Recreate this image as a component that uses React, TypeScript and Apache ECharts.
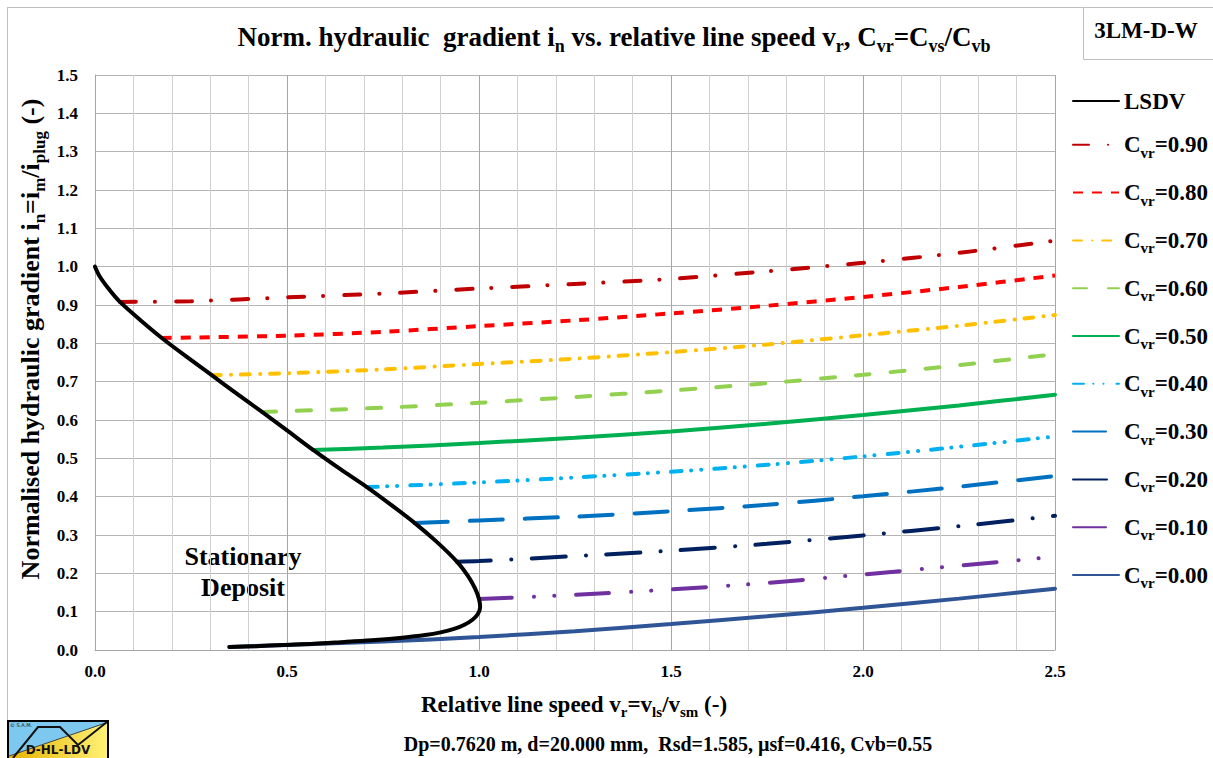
import React, { useEffect, useRef } from "react";
import * as echarts from "echarts";

const FONT = '"Liberation Serif", "Times New Roman", serif';

// ---------------- data ----------------
const lsdvV = [0, 0.012, 0.035, 0.065, 0.12, 0.174, 0.24, 0.304, 0.37, 0.435, 0.5, 0.568, 0.64, 0.708, 0.772, 0.833, 0.89, 0.943, 0.972, 0.99, 1.0, 1.003, 0.997, 0.983, 0.962, 0.935, 0.9, 0.86, 0.8, 0.73, 0.65, 0.57, 0.49, 0.42, 0.35];
const lsdvI = [1.0, 0.975, 0.943, 0.908, 0.859, 0.814, 0.764, 0.717, 0.668, 0.621, 0.573, 0.522, 0.471, 0.425, 0.378, 0.331, 0.282, 0.23, 0.192, 0.16, 0.133, 0.112, 0.094, 0.079, 0.066, 0.055, 0.046, 0.039, 0.032, 0.026, 0.021, 0.016, 0.013, 0.01, 0.008];

const cvrNames = ["0.90", "0.80", "0.70", "0.60", "0.50", "0.40", "0.30", "0.20", "0.10", "0.00"];

const cvr90V = [0.065, 0.25, 0.5, 0.75, 1.0, 1.25, 1.5, 1.75, 2.0, 2.25, 2.5];
const cvr90I = [0.908, 0.91, 0.92, 0.93, 0.943, 0.955, 0.968, 0.988, 1.01, 1.036, 1.068];

const cvr80V = [0.174, 0.5, 0.75, 1.0, 1.25, 1.5, 1.75, 2.0, 2.25, 2.5];
const cvr80I = [0.814, 0.82, 0.83, 0.845, 0.86, 0.878, 0.898, 0.921, 0.947, 0.977];

const cvr70V = [0.304, 0.5, 0.75, 1.0, 1.25, 1.5, 1.75, 2.0, 2.25, 2.5];
const cvr70I = [0.717, 0.722, 0.732, 0.746, 0.76, 0.777, 0.797, 0.821, 0.846, 0.874];

const cvr60V = [0.435, 0.75, 1.0, 1.25, 1.5, 1.75, 2.0, 2.25, 2.5];
const cvr60I = [0.621, 0.632, 0.645, 0.66, 0.677, 0.696, 0.718, 0.743, 0.772];

const cvr50V = [0.568, 0.75, 1.0, 1.25, 1.5, 1.75, 2.0, 2.25, 2.5];
const cvr50I = [0.522, 0.528, 0.54, 0.554, 0.57, 0.59, 0.613, 0.638, 0.666];

const cvr40V = [0.708, 1.0, 1.25, 1.5, 1.75, 2.0, 2.25, 2.5];
const cvr40I = [0.425, 0.437, 0.45, 0.465, 0.483, 0.505, 0.53, 0.557];

const cvr30V = [0.833, 1.0, 1.25, 1.5, 1.75, 2.0, 2.25, 2.5];
const cvr30I = [0.331, 0.338, 0.348, 0.362, 0.379, 0.401, 0.426, 0.454];

const cvr20V = [0.943, 1.0, 1.25, 1.5, 1.75, 2.0, 2.25, 2.5];
const cvr20I = [0.23, 0.232, 0.245, 0.259, 0.277, 0.299, 0.323, 0.35];

const cvr10V = [1.0, 1.25, 1.5, 1.75, 2.0, 2.25, 2.5];
const cvr10I = [0.133, 0.144, 0.158, 0.175, 0.197, 0.22, 0.243];

const cvr00V = [0.35, 0.5, 0.75, 1.0, 1.25, 1.5, 1.75, 2.0, 2.25, 2.5];
const cvr00I = [0.008, 0.013, 0.022, 0.034, 0.049, 0.068, 0.088, 0.11, 0.134, 0.16];

const cvrV = [cvr90V, cvr80V, cvr70V, cvr60V, cvr50V, cvr40V, cvr30V, cvr20V, cvr10V, cvr00V];
const cvrI = [cvr90I, cvr80I, cvr70I, cvr60I, cvr50I, cvr40I, cvr30I, cvr20I, cvr10I, cvr00I];

// ---------------- styles ----------------
const cvrStyles: any[] = [
  { color: "#C00000", type: [16, 19, 0.1, 21], cap: "round" },
  { color: "#FF0000", type: [10, 9], cap: "butt" },
  { color: "#FFC000", type: [9, 10.3, 0.1, 9.7], cap: "round" },
  { color: "#92D050", type: [14, 21], cap: "round" },
  { color: "#00B050", type: "solid", cap: "round" },
  { color: "#00B0F0", type: [11, 9.3, 0.1, 10, 0.1, 13], cap: "round" },
  { color: "#0070C0", type: [33, 22], cap: "round" },
  { color: "#002060", type: [34, 20.3, 0.1, 20.3], cap: "round" },
  { color: "#7030A0", type: [33, 22, 0.1, 20, 0.1, 22], cap: "round" },
  { color: "#2F5597", type: "solid", cap: "round" },
];

const mainRich = (size: number, lh: number) => ({
  m: { fontSize: size, fontFamily: FONT, fontWeight: "bold", fill: "#000", color: "#000", lineHeight: lh, verticalAlign: "middle" },
  s: { fontSize: Math.round(size * 0.65), fontFamily: FONT, fontWeight: "bold", fill: "#000", color: "#000", lineHeight: lh, verticalAlign: "bottom" },
});

export default function App() {
  const ref = useRef<HTMLDivElement>(null);
  useEffect(() => {
    if (!ref.current) return;
    const chart = echarts.init(ref.current, undefined, { renderer: "svg" });

    const series: any[] = [];
    cvrNames.forEach((n, k) => {
      const st = cvrStyles[k];
      series.push({
        name: n,
        type: "line",
        data: cvrV[k].map((v, j) => [v, cvrI[k][j]]),
        symbol: "none",
        smooth: 0.3,
        color: st.color,
        z: 2,
        lineStyle: { color: st.color, width: 4, type: st.type, cap: st.cap },
      });
    });
    series.push({
      name: "LSDV",
      type: "line",
      data: lsdvV.map((v, j) => [v, lsdvI[j]]),
      symbol: "none",
      smooth: 0.3,
      color: "#000000",
      z: 3,
      lineStyle: { color: "#000000", width: 4, type: "solid", cap: "round", join: "round" },
    });

    const legRich: any = {
      m: { fontSize: 23, fontFamily: FONT, fontWeight: "bold", color: "#000", lineHeight: 31, verticalAlign: "middle" },
      s: { fontSize: 15, fontFamily: FONT, fontWeight: "bold", color: "#000", lineHeight: 31, verticalAlign: "bottom" },
    };

    const logoGrad = new echarts.graphic.LinearGradient(0, 0, 1, 0, [
      { offset: 0, color: "#E6B400" },
      { offset: 1, color: "#FFF176" },
    ]);

    chart.setOption({
      animation: false,
      backgroundColor: "#ffffff",
      grid: { left: 95, top: 75, width: 960, height: 575, containLabel: false },
      xAxis: {
        type: "value",
        min: 0,
        max: 2.5,
        interval: 0.5,
        axisLine: { show: true, lineStyle: { color: "#A6A6A6", width: 1 } },
        axisTick: { show: false },
        minorTick: { show: false, splitNumber: 5 },
        splitLine: { show: true, lineStyle: { color: "#A6A6A6", width: 1 } },
        minorSplitLine: { show: true, lineStyle: { color: "#D0D0D0", width: 1 } },
        axisLabel: {
          margin: 13,
          fontFamily: FONT,
          fontWeight: "bold",
          fontSize: 17,
          color: "#000",
          formatter: (v: number) => v.toFixed(1),
        },
      },
      yAxis: {
        type: "value",
        min: 0,
        max: 1.5,
        interval: 0.1,
        axisLine: { show: true, lineStyle: { color: "#A6A6A6", width: 1 } },
        axisTick: { show: false },
        splitLine: { show: true, lineStyle: { color: "#B4B4B4", width: 1 } },
        axisLabel: {
          margin: 17,
          fontFamily: FONT,
          fontWeight: "bold",
          fontSize: 17,
          color: "#000",
          formatter: (v: number) => v.toFixed(1),
        },
      },
      legend: {
        orient: "vertical",
        left: 1072,
        top: 89.5,
        padding: 0,
        itemGap: 20.8,
        itemWidth: 46,
        itemHeight: 14,
        data: ["LSDV", ...cvrNames],
        selectedMode: false,
        itemStyle: { opacity: 0 },
        textStyle: { fontFamily: FONT, fontWeight: "bold", fontSize: 23, color: "#000", rich: legRich },
        formatter: (name: string) => (name === "LSDV" ? "{m|LSDV}" : `{m|C}{s|vr}{m|=${name}}`),
      },
      series,
      graphic: [
        // frame lines
        { type: "line", shape: { x1: 7, y1: 7.5, x2: 1213, y2: 7.5 }, style: { stroke: "#BFBFBF", lineWidth: 1 }, silent: true },
        { type: "line", shape: { x1: 7.5, y1: 7, x2: 7.5, y2: 758 }, style: { stroke: "#BFBFBF", lineWidth: 1 }, silent: true },
        // id box
        { type: "rect", shape: { x: 1083.5, y: 7.5, width: 140, height: 52 }, style: { fill: "#fff", stroke: "#BFBFBF", lineWidth: 1 }, silent: true },
        {
          type: "text", x: 1146, y: 30,
          style: { text: "3LM-D-W", fontFamily: FONT, fontWeight: "bold", fontSize: 23, fill: "#000", align: "center", verticalAlign: "middle" },
        },
        // title
        {
          type: "text", x: 614, y: 37,
          style: {
            text: "{m|Norm. hydraulic  gradient i}{s|n}{m| vs. relative line speed v}{s|r}{m|, C}{s|vr}{m|=C}{s|vs}{m|/C}{s|vb}",
            rich: mainRich(27, 36), align: "center", verticalAlign: "middle",
          },
        },
        // y axis name
        {
          type: "text", x: 30, y: 339, rotation: Math.PI / 2,
          style: {
            text: "{m|Normalised hydraulic gradient i}{s|n}{m|=i}{s|m}{m|/i}{s|plug}{m| (-)}",
            rich: mainRich(26, 35), align: "center", verticalAlign: "middle",
          },
        },
        // x axis name
        {
          type: "text", x: 574, y: 704,
          style: {
            text: "{m|Relative line speed v}{s|r}{m|=v}{s|ls}{m|/v}{s|sm}{m| (-)}",
            rich: mainRich(23, 31), align: "center", verticalAlign: "middle",
          },
        },
        // params
        {
          type: "text", x: 668, y: 744,
          style: {
            text: "Dp=0.7620 m, d=20.000 mm,  Rsd=1.585, µsf=0.416, Cvb=0.55",
            fontFamily: FONT, fontWeight: "bold", fontSize: 20, fill: "#000", align: "center", verticalAlign: "middle",
          },
        },
        // region label
        {
          type: "text", x: 243, y: 572,
          style: {
            text: "Stationary\nDeposit", lineHeight: 31,
            fontFamily: FONT, fontWeight: "bold", fontSize: 26, fill: "#000", align: "center", verticalAlign: "middle",
          },
        },
        // logo
        {
          type: "group",
          silent: true,
          children: [
            { type: "rect", shape: { x: 8, y: 721, width: 100, height: 40 }, style: { fill: logoGrad, stroke: "#000", lineWidth: 2 } },
            { type: "polygon", shape: { points: [[9, 722], [107, 722], [107, 723], [9, 756]] }, style: { fill: "#7CC8EE" } },
            { type: "line", shape: { x1: 9, y1: 756, x2: 107, y2: 722.5 }, style: { stroke: "#444", lineWidth: 1 } },
            { type: "polyline", shape: { points: [[13, 758], [38, 727], [60, 727], [78, 745], [107, 722]] }, style: { stroke: "#111", lineWidth: 2, fill: null } },
            { type: "text", x: 10, y: 725, style: { text: "© S.A.M.", fontFamily: "DejaVu Sans", fontSize: 5, fill: "#222", verticalAlign: "middle" } },
            { type: "text", x: 58, y: 750, style: { text: "D-HL-LDV", fontFamily: "DejaVu Sans", fontWeight: "bold", fontSize: 12, fill: "#111", align: "center", verticalAlign: "middle" } },
          ],
        },
      ],
    });
    return () => chart.dispose();
  }, []);
  return <div ref={ref} style={{ position: "absolute", left: 0, top: 0, width: 1213, height: 758 }} />;
}
